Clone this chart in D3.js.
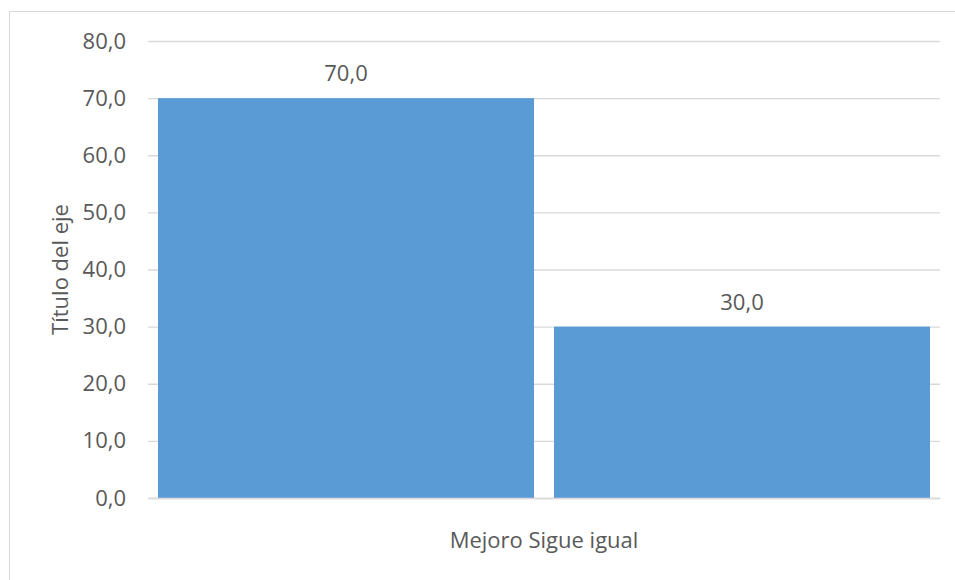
<!DOCTYPE html>
<html><head><meta charset="utf-8">
<script src="https://cdn.jsdelivr.net/npm/d3@7"></script>
<style>body{margin:0;background:#fff}text{font-family:"Open Sans",sans-serif;fill:#595959}</style>
</head><body><svg id="c" width="955" height="580"></svg>
<script>
const categories = ["Mejoro Sigue igual"];
const seriesNames = ["Mejoro", "Sigue igual"];
const values = [70.0, 30.0];
const yTicks = [0, 10, 20, 30, 40, 50, 60, 70, 80];
const yTitle = "Título del eje";

const svg = d3.select("#c");
svg.append("rect").attr("x",9.5).attr("y",11.5).attr("width",960).attr("height",600)
  .attr("fill","#fff").attr("stroke","#d9d9d9").attr("stroke-width",1);

const L=148,R=940,T=41,B=498;
const FS="22px";
const y = d3.scaleLinear().domain([0,80]).range([B,T]);
const x0 = d3.scaleBand().domain(categories).range([L,R]).paddingInner(0).paddingOuter(0);
const x1 = d3.scaleBand().domain(seriesNames).range([x0(categories[0])+10, x0(categories[0])+x0.bandwidth()-10]).paddingInner(20/396);

const fmt = d => d.toFixed(1).replace(".", ",");
const yAxis = d3.axisLeft(y).tickValues(yTicks).tickSize(-(R-L)).tickFormat(fmt).tickPadding(22);
const g = svg.append("g").attr("transform",`translate(${L},0)`).call(yAxis);
g.select(".domain").remove();
g.selectAll(".tick line").attr("stroke","#d9d9d9").attr("stroke-width",1.3);
g.selectAll(".tick text").style("font-size",FS).attr("fill","#595959");

svg.append("g").selectAll("rect").data(values).join("rect")
  .attr("x",(d,i)=>x1(seriesNames[i])).attr("width",x1.bandwidth())
  .attr("y",d=>y(d)).attr("height",d=>B-y(d)).attr("fill","#5b9bd5");

svg.append("g").selectAll("text").data(values).join("text")
  .attr("x",(d,i)=>x1(seriesNames[i])+x1.bandwidth()/2).attr("y",d=>y(d)-17)
  .attr("text-anchor","middle").style("font-size",FS).text(fmt);

svg.append("g").attr("transform",`translate(0,${B})`)
  .call(d3.axisBottom(x0).tickSize(0).tickPadding(34))
  .call(a=>{a.select(".domain").attr("stroke","#d9d9d9").attr("stroke-width",1.3);
    a.selectAll("text").style("font-size",FS).attr("fill","#595959").attr("font-family","Open Sans");});

svg.append("text").attr("transform",`translate(68,${(T+B)/2}) rotate(-90)`)
  .attr("text-anchor","middle").style("font-size",FS).text(yTitle);
</script></body></html>
